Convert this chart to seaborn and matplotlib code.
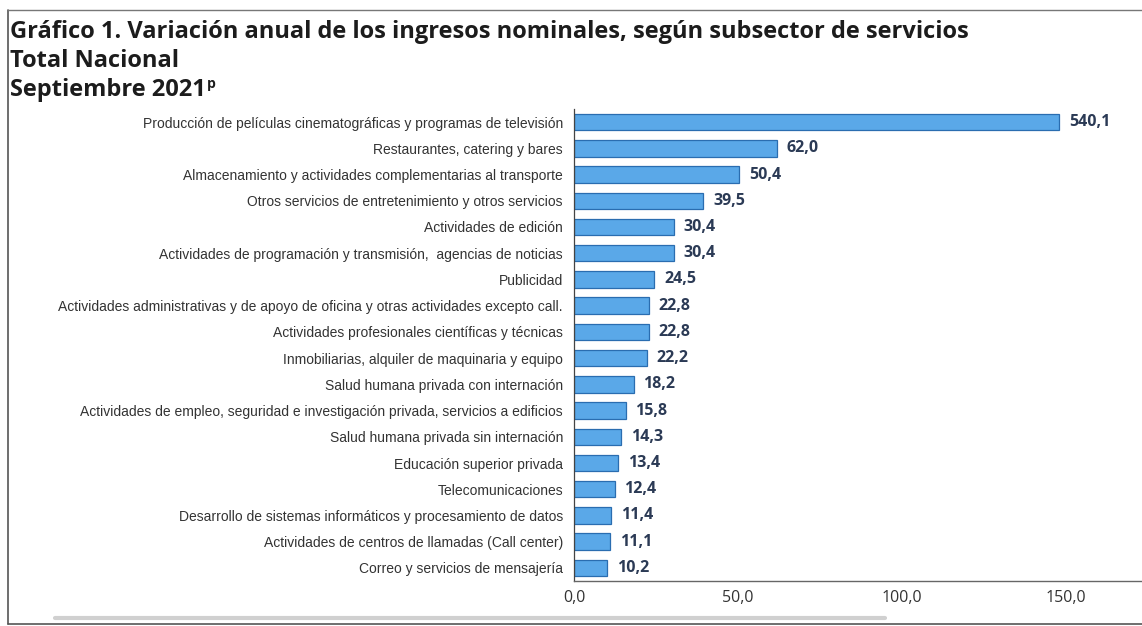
import numpy as np
import pandas as pd
import matplotlib
matplotlib.use("Agg")
import matplotlib.pyplot as plt
import seaborn as sns

# datos del gráfico (variación anual %, septiembre 2021)
subsectores = [
    "Producción de películas cinematográficas y programas de televisión",
    "Restaurantes, catering y bares",
    "Almacenamiento y actividades complementarias al transporte",
    "Otros servicios de entretenimiento y otros servicios",
    "Actividades de edición",
    "Actividades de programación y transmisión,  agencias de noticias",
    "Publicidad",
    "Actividades administrativas y de apoyo de oficina y otras actividades excepto call.",
    "Actividades profesionales científicas y técnicas",
    "Inmobiliarias, alquiler de maquinaria y equipo",
    "Salud humana privada con internación",
    "Actividades de empleo, seguridad e investigación privada, servicios a edificios",
    "Salud humana privada sin internación",
    "Educación superior privada",
    "Telecomunicaciones",
    "Desarrollo de sistemas informáticos y procesamiento de datos",
    "Actividades de centros de llamadas (Call center)",
    "Correo y servicios de mensajería",
]
variacion = [540.1, 62.0, 50.4, 39.5, 30.4, 30.4, 24.5, 22.8, 22.8, 22.2,
             18.2, 15.8, 14.3, 13.4, 12.4, 11.4, 11.1, 10.2]
ticks_x = [0, 50, 100, 150]
# la barra mayor se dibuja cortada, como en el original
corte = 148.2

df = pd.DataFrame({"subsector": subsectores, "variacion": variacion})
df["dibujo"] = np.minimum(df["variacion"], corte)

sns.set_style("white")
plt.rcParams["font.family"] = ["Liberation Sans", "DejaVu Sans"]

W, H = 1142, 626
fig = plt.figure(figsize=(W / 100, H / 100), dpi=100)
x0_px, top_px, bot_px = 574, 109, 581
ax = fig.add_axes([x0_px / W, 1 - bot_px / H, (W - x0_px) / W, (bot_px - top_px) / H])

sns.barplot(data=df, x="dibujo", y="subsector", orient="h", color="#5aa8e8",
            edgecolor="#2a6db0", linewidth=0.9, width=0.63, saturation=1, ax=ax)

ax.set_xlim(0, (W - 575) / 3.27)
ax.set_ylim(17.5, -0.5)
ax.set_xlabel("")
ax.set_ylabel("")
ax.set_xticks(ticks_x)
ax.set_xticklabels([f"{t:.1f}".replace(".", ",") for t in ticks_x],
                   family="Open Sans", fontsize=11.5, color="#333333")
ax.tick_params(axis="x", direction="inout", length=5, width=0.8, color="#555555", pad=4)
ax.tick_params(axis="y", length=0, pad=8, labelsize=10, labelcolor="#333333")
ax.set_yticks(np.arange(-0.5, len(subsectores), 1), minor=True)
ax.tick_params(axis="y", which="minor", direction="out", length=4, width=0.8, color="#555555")

for s in ["top", "right"]:
    ax.spines[s].set_visible(False)
ax.spines["left"].set_color("#444444")
ax.spines["bottom"].set_color("#666666")
ax.spines["left"].set_linewidth(0.9)
ax.spines["bottom"].set_linewidth(1.0)

for i, (v, d) in enumerate(zip(df["variacion"], df["dibujo"])):
    ax.annotate(f"{v:.1f}".replace(".", ","), (d, i), xytext=(7, 0),
                textcoords="offset points", va="center", ha="left",
                family="Open Sans", fontweight="bold", fontsize=11.5, color="#2b3a55")

# títulos
tit = dict(family="Open Sans", fontweight="bold", fontsize=17, color="#1c1c1c", va="center")
fig.text(10 / W, 1 - 32 / H, "Gráfico 1. Variación anual de los ingresos nominales, según subsector de servicios", **tit)
fig.text(10 / W, 1 - 61 / H, "Total Nacional", **tit)
t3 = fig.text(10 / W, 1 - 90 / H, "Septiembre 2021", **tit)
fig.canvas.draw()
bb = t3.get_window_extent()
fig.text(bb.x1 / W + 1 / W, 1 - 84 / H, "p", family="Open Sans", fontweight="bold",
         fontsize=10, color="#1c1c1c", va="center")

# marco del recuadro
fig.add_artist(plt.Line2D([8 / W, 8 / W], [1 - 10 / H, 1 - 624 / H], color="#555555", lw=1.2))
fig.add_artist(plt.Line2D([8 / W, 1], [1 - 10 / H, 1 - 10 / H], color="#777777", lw=1.0))
fig.add_artist(plt.Line2D([55 / W, 885 / W], [1 - 618 / H, 1 - 618 / H], color="#d0d0d0", lw=3))
fig.add_artist(plt.Line2D([8 / W, 1], [1 - 624 / H, 1 - 624 / H], color="#555555", lw=1.2))

fig.savefig("out.png", dpi=100)
